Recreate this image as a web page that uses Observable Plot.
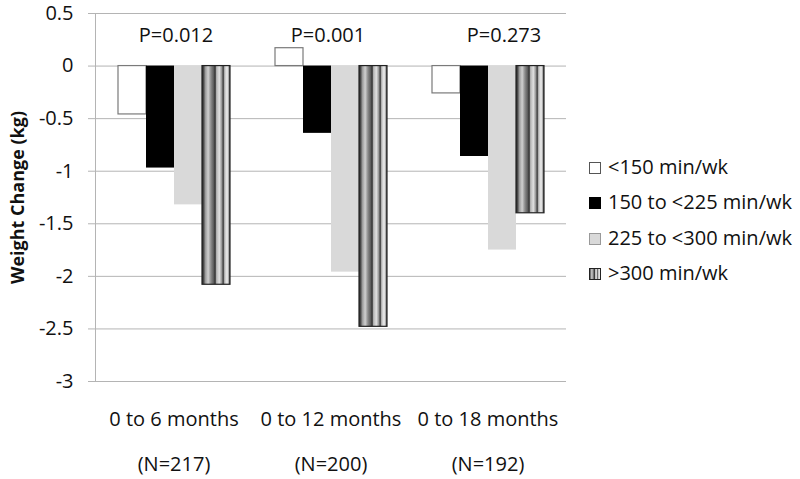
<!DOCTYPE html>
<html>
<head>
<meta charset="utf-8">
<script src="https://cdn.jsdelivr.net/npm/d3@7"></script>
<script src="https://cdn.jsdelivr.net/npm/@observablehq/plot@0.6"></script>
<style>
  html, body { margin: 0; padding: 0; background: #fff; }
  #wrap { position: relative; width: 800px; height: 479px; font-family: "Open Sans", sans-serif; }
  #legend { position: absolute; left: 589px; top: 149px; }
  .item { height: 35.3px; display: flex; align-items: center; font-size: 20px; color: #111; white-space: nowrap; }
  .sw { width: 12px; height: 12px; margin-right: 7px; box-sizing: border-box; margin-top: 3px; }
  .chart g[aria-label="y-axis label"] text { font-weight: bold; font-size: 18px; }
</style>
</head>
<body>
<div id="wrap"><div id="legend"></div></div>
<script>
const categories = ["0 to 6 months", "0 to 12 months", "0 to 18 months"];
const sampleSizes = ["(N=217)", "(N=200)", "(N=192)"];
const pValues = ["P=0.012", "P=0.001", "P=0.273"];
const seriesNames = ["<150 min/wk", "150 to <225 min/wk", "225 to <300 min/wk", ">300 min/wk"];
const under150 = [-0.46, 0.17, -0.26];
const from150to225 = [-0.97, -0.64, -0.86];
const from225to300 = [-1.32, -1.96, -1.75];
const over300 = [-2.08, -2.48, -1.40];
const yTicks = [0.5, 0, -0.5, -1, -1.5, -2, -2.5, -3];

const seriesValues = [under150, from150to225, from225to300, over300];
const rows = [];
categories.forEach((c, ci) => seriesNames.forEach((s, si) => rows.push({cat: c, series: s, value: seriesValues[si][ci]})));

const fills = ["#ffffff", "#000000", "#d9d9d9", "url(#stripes)"];
const strokes = ["#7a7a7a", "none", "none", "#222"];
const stripeStops = [
  [0, "#2a2a2a"], [0.06, "#4a4a4a"], [0.12, "#9a9a9a"], [0.22, "#d0d0d0"], [0.32, "#8a8a8a"],
  [0.42, "#5a5a5a"], [0.47, "#2e2e2e"], [0.52, "#b5b5b5"], [0.62, "#e0e0e0"], [0.7, "#9a9a9a"],
  [0.76, "#3a3a3a"], [0.81, "#c0c0c0"], [0.9, "#efefef"], [0.96, "#9a9a9a"], [1, "#2a2a2a"]
];
const grid = "#b4b4b4";
const pOffsets = [2, -3, 16];

const defs = () => {
  const d = d3.create("svg:defs");
  const g = d.append("linearGradient").attr("id", "stripes").attr("x1", 0).attr("x2", 1).attr("y1", 0).attr("y2", 0);
  stripeStops.forEach(([o, c]) => g.append("stop").attr("offset", o).attr("stop-color", c));
  return d.node();
};

const chart = Plot.plot({
  className: "chart",
  width: 800, height: 479,
  marginLeft: 95, marginRight: 234, marginTop: 13, marginBottom: 98,
  style: {fontFamily: "Open Sans, sans-serif", fontSize: "20px", background: "transparent", color: "#111"},
  fx: {domain: categories, padding: 0, label: null},
  x: {domain: seriesNames, paddingInner: 0, paddingOuter: 0.73, axis: null},
  y: {domain: [-3, 0.5], axis: null},
  marks: [
    defs,
    Plot.ruleY(yTicks, {stroke: grid, strokeWidth: 1}),
    Plot.frame({anchor: "left", facet: "super", stroke: grid}),
    Plot.axisY({ticks: yTicks, tickSize: 7, tickPadding: 15, stroke: grid, tickFormat: d => String(d),
      label: "Weight Change (kg)", labelAnchor: "center", labelArrow: "none", labelOffset: 84, fill: "#111"}),
    Plot.axisFx({anchor: "bottom", tickSize: 0, tickPadding: 30, label: null, tickFormat: d => d}),
    Plot.axisFx({anchor: "bottom", tickSize: 0, tickPadding: 75, label: null,
      tickFormat: d => sampleSizes[categories.indexOf(d)]}),
    ...seriesNames.map((s, i) => Plot.barY(rows, {
      filter: d => d.series === s, fx: "cat", x: "series", y: "value",
      fill: fills[i], stroke: strokes[i], strokeWidth: 1.2, insetLeft: 0, insetRight: 0
    })),
    ...pValues.map((p, i) => Plot.text([p], {
      fx: [categories[i]], text: d => d, frameAnchor: "top", dy: 14, dx: pOffsets[i], fill: "#111"
    }))
  ]
});
document.getElementById("wrap").prepend(chart);

const legend = document.getElementById("legend");
seriesNames.forEach((s, i) => {
  const item = document.createElement("div");
  item.className = "item";
  let sw;
  if (i === 3) {
    sw = `<svg class="sw" width="12" height="12" viewBox="0 0 12 12"><rect x="0.5" y="0.5" width="11" height="11" fill="url(#stripes)" stroke="#222"/></svg>`;
  } else {
    sw = `<div class="sw" style="background:${fills[i]};border:1px solid ${i === 0 ? '#555' : (i === 1 ? '#000' : '#999')}"></div>`;
  }
  item.innerHTML = sw + `<span></span>`;
  item.querySelector("span").textContent = s;
  legend.appendChild(item);
});
</script>
</body>
</html>
